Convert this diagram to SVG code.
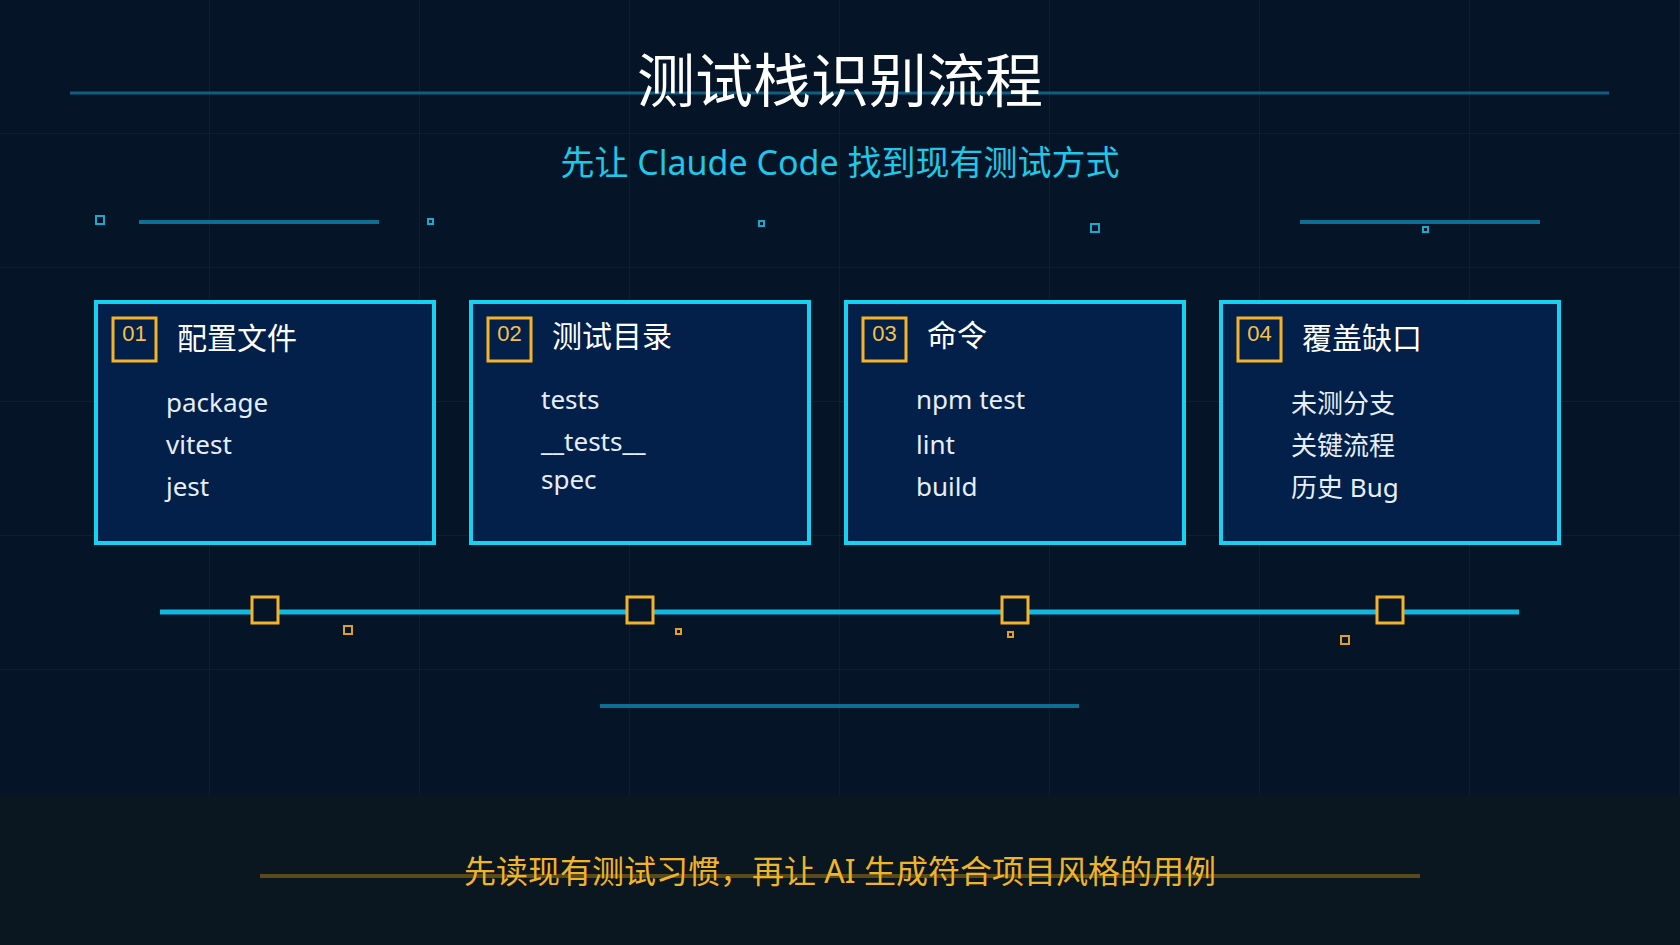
<svg xmlns="http://www.w3.org/2000/svg" width="1680" height="945" viewBox="0 0 1680 945">
<defs>
<pattern id="grid" width="210" height="134" patternUnits="userSpaceOnUse"><path d="M210 0V134M0 134H210" fill="none" stroke="#0e2a40" stroke-width="1"/></pattern>
<style>
.card{fill:#03204a;stroke:#18d0f0;stroke-width:4}
.badge{fill:none;stroke:#f5b32a;stroke-width:3}
.num{font-family:"Liberation Sans",sans-serif;font-size:22px;fill:#f5c04a}
.ct{font-family:"Noto Sans CJK SC",sans-serif;font-size:30px;fill:#ffffff}
.it{font-family:"Noto Sans","Noto Sans CJK SC",sans-serif;font-size:26px;fill:#e6eef8}
.dl{stroke:#0e6f94;stroke-width:4}
.sq{fill:none;stroke:#1aa8cc;stroke-width:2}
.osq{fill:none;stroke:#e0a020;stroke-width:2}
</style>
</defs>
<rect width="1680" height="945" fill="#051527"/>
<rect width="1680" height="945" fill="url(#grid)"/>
<rect y="795" width="1680" height="150" fill="#0a1620"/>
<line x1="70" y1="93" x2="1609" y2="93" stroke="#0e5f80" stroke-width="3"/>
<text x="840" y="102" text-anchor="middle" font-family="Noto Sans CJK SC,sans-serif" font-size="58" fill="#ffffff">测试栈识别流程</text>
<text x="840" y="175" text-anchor="middle" font-family="Noto Sans,Noto Sans CJK SC,sans-serif" font-size="34" fill="#1fc8e8">先让 Claude Code 找到现有测试方式</text>
<line class="dl" x1="139" y1="222" x2="379" y2="222"/>
<line class="dl" x1="1300" y1="222" x2="1540" y2="222"/>
<rect class="sq" x="96" y="216" width="8" height="8"/>
<rect class="sq" x="428" y="219" width="5" height="5"/>
<rect class="sq" x="759" y="221" width="5" height="5"/>
<rect class="sq" x="1091" y="224" width="8" height="8"/>
<rect class="sq" x="1423" y="227" width="5" height="5"/>
<g id="node1"><rect class="card" x="96" y="302" width="338" height="241"/><rect class="badge" x="113" y="318" width="43" height="43"/><text class="num" x="134.5" y="341" text-anchor="middle">01</text><text class="ct" x="177" y="349">配置文件</text><text class="it" x="166" y="412">package</text><text class="it" x="166" y="454">vitest</text><text class="it" x="166" y="496">jest</text></g>
<g id="node2"><rect class="card" x="471" y="302" width="338" height="241"/><rect class="badge" x="488" y="318" width="43" height="43"/><text class="num" x="509.5" y="341" text-anchor="middle">02</text><text class="ct" x="552" y="347">测试目录</text><text class="it" x="541" y="409">tests</text><text class="it" x="541" y="451">__tests__</text><text class="it" x="541" y="489">spec</text></g>
<g id="node3"><rect class="card" x="846" y="302" width="338" height="241"/><rect class="badge" x="863" y="318" width="43" height="43"/><text class="num" x="884.5" y="341" text-anchor="middle">03</text><text class="ct" x="927" y="346">命令</text><text class="it" x="916" y="409">npm test</text><text class="it" x="916" y="454">lint</text><text class="it" x="916" y="496">build</text></g>
<g id="node4"><rect class="card" x="1221" y="302" width="338" height="241"/><rect class="badge" x="1238" y="318" width="43" height="43"/><text class="num" x="1259.5" y="341" text-anchor="middle">04</text><text class="ct" x="1302" y="349">覆盖缺口</text><text class="it" x="1291" y="413">未测分支</text><text class="it" x="1291" y="455">关键流程</text><text class="it" x="1291" y="497">历史 Bug</text></g>
<g id="connectors">
<line x1="160" y1="612" x2="1519" y2="612" stroke="#12b8e0" stroke-width="5"/>
<rect x="252" y="597" width="26" height="26" fill="#051527" stroke="#f5b32a" stroke-width="3"/>
<rect x="627" y="597" width="26" height="26" fill="#051527" stroke="#f5b32a" stroke-width="3"/>
<rect x="1002" y="597" width="26" height="26" fill="#051527" stroke="#f5b32a" stroke-width="3"/>
<rect x="1377" y="597" width="26" height="26" fill="#051527" stroke="#f5b32a" stroke-width="3"/>
</g>
<rect class="osq" x="344" y="626" width="8" height="8"/>
<rect class="osq" x="676" y="629" width="5" height="5"/>
<rect class="osq" x="1008" y="632" width="5" height="5"/>
<rect class="osq" x="1341" y="636" width="8" height="8"/>
<line class="dl" x1="600" y1="706" x2="1079" y2="706"/>
<line x1="260" y1="876" x2="1420" y2="876" stroke="#5a4a1a" stroke-width="4"/>
<text x="840" y="883" text-anchor="middle" font-family="Noto Sans,Noto Sans CJK SC,sans-serif" font-size="32" fill="#f0b429">先读现有测试习惯，再让 AI 生成符合项目风格的用例</text>
</svg>
